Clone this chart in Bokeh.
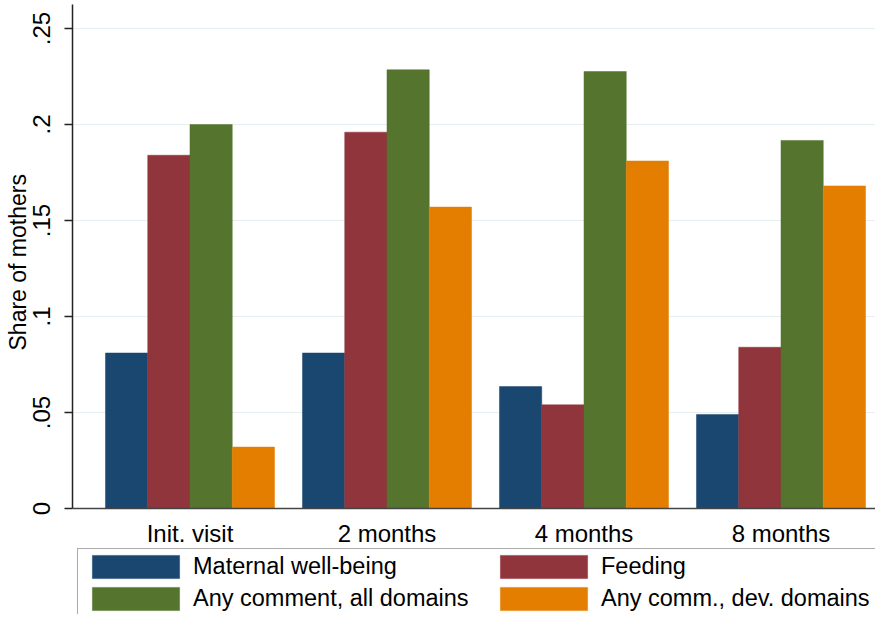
from bokeh.plotting import figure
from bokeh.models import (ColumnDataSource, FixedTicker, Legend, LegendItem, Range1d, Title)
from bokeh.transform import dodge
from bokeh.embed import file_html
from bokeh.resources import INLINE

# ---- data ----
categories = ["Init. visit", "2 months", "4 months", "8 months"]
maternal = [0.081, 0.081, 0.0635, 0.049]
feeding = [0.184, 0.196, 0.054, 0.084]
any_all = [0.200, 0.2285, 0.2276, 0.1917]
any_dev = [0.032, 0.157, 0.181, 0.168]
series_names = ["Maternal well-being", "Feeding", "Any comment, all domains", "Any comm., dev. domains"]
y_ticks = [0, 0.05, 0.1, 0.15, 0.2, 0.25]
y_tick_labels = ["0", ".05", ".1", ".15", ".2", ".25"]
y_title = "Share of mothers"

colors = ["#1a476f", "#90353b", "#55752f", "#e37e00"]
FONT = "Liberation Sans"

xpos = list(range(1, len(categories) + 1))
source = ColumnDataSource(dict(x=xpos, maternal=maternal, feeding=feeding,
                               any_all=any_all, any_dev=any_dev))

# The frame runs to the bottom of the figure; the value axis stops at 0 and the
# category axis is drawn at y = 0, leaving room below it for the legend.
Y_TOP = 0.2625
p = figure(width=875, height=614, output_backend="svg", toolbar_location=None,
           x_range=Range1d(0.4036, 4.4797), y_range=Range1d(-0.0552, Y_TOP),
           min_border_left=72, min_border_right=0, min_border_top=4,
           min_border_bottom=0)
p.outline_line_color = None
p.background_fill_color = "white"
p.border_fill_color = "white"

bw = 0.2145
offsets = [-1.5 * bw, -0.5 * bw, 0.5 * bw, 1.5 * bw]
fields = ["maternal", "feeding", "any_all", "any_dev"]
renderers = []
for f, off, c in zip(fields, offsets, colors):
    renderers.append(p.vbar(x=dodge("x", off), top=f, width=bw, bottom=0,
                            source=source, fill_color=c, line_color=c,
                            line_width=0.5))

# y axis
yax = p.yaxis[0]
yax.bounds = (0, Y_TOP)
yax.ticker = FixedTicker(ticks=y_ticks)
yax.major_label_overrides = {t: l for t, l in zip(y_ticks, y_tick_labels)}
yax.major_label_orientation = "vertical"
yax.major_tick_out = 8
yax.major_tick_in = 0
yax.minor_tick_out = 0
yax.minor_tick_in = 0
yax.major_tick_line_width = 1.5
yax.major_tick_line_color = "#222222"
yax.axis_line_width = 1.5
yax.axis_line_color = "#222222"
yax.major_label_text_font = FONT
yax.major_label_text_font_size = "24px"
yax.major_label_text_color = "black"
yax.major_label_text_line_height = 1.0
yax.major_label_standoff = 14

# value-axis title, placed along the 0-.26 part of the axis (not the legend area)
ytitle = Title(text=y_title, align="left", offset=264, standoff=0,
               text_font=FONT, text_font_size="23px", text_font_style="normal",
               text_color="black", text_line_height=1.0)
p.add_layout(ytitle, "left")

# x axis, drawn at y = 0
xax = p.xaxis[0]
xax.fixed_location = 0
xax.ticker = FixedTicker(ticks=xpos)
xax.major_label_overrides = {x: c for x, c in zip(xpos, categories)}
xax.major_tick_out = 0
xax.major_tick_in = 0
xax.minor_tick_out = 0
xax.minor_tick_in = 0
xax.axis_line_width = 1.5
xax.axis_line_color = "#444444"
xax.major_label_text_font = FONT
xax.major_label_text_font_size = "24px"
xax.major_label_text_color = "black"
xax.major_label_standoff = 11

p.xgrid.visible = False
p.ygrid.ticker = FixedTicker(ticks=y_ticks)
p.ygrid.grid_line_color = "#e6eef1"
p.ygrid.grid_line_width = 1.2

# column-major layout: col 1 = items 0,2 ; col 2 = items 1,3
order = [0, 2, 1, 3]
items = [LegendItem(label=series_names[i], renderers=[renderers[i]]) for i in order]
legend = Legend(items=items, ncols=2, location=(5, -3), margin=0,
                label_text_font=FONT, label_text_font_size="23.5px",
                label_text_color="black",
                glyph_width=109, glyph_height=29, label_height=23,
                label_width=293, label_standoff=3, spacing=3, padding=3,
                border_line_color="#555555", border_line_width=1.2,
                background_fill_color="white", background_fill_alpha=1.0)
p.add_layout(legend, "center")

open("out.html", "w").write(file_html(p, INLINE))
